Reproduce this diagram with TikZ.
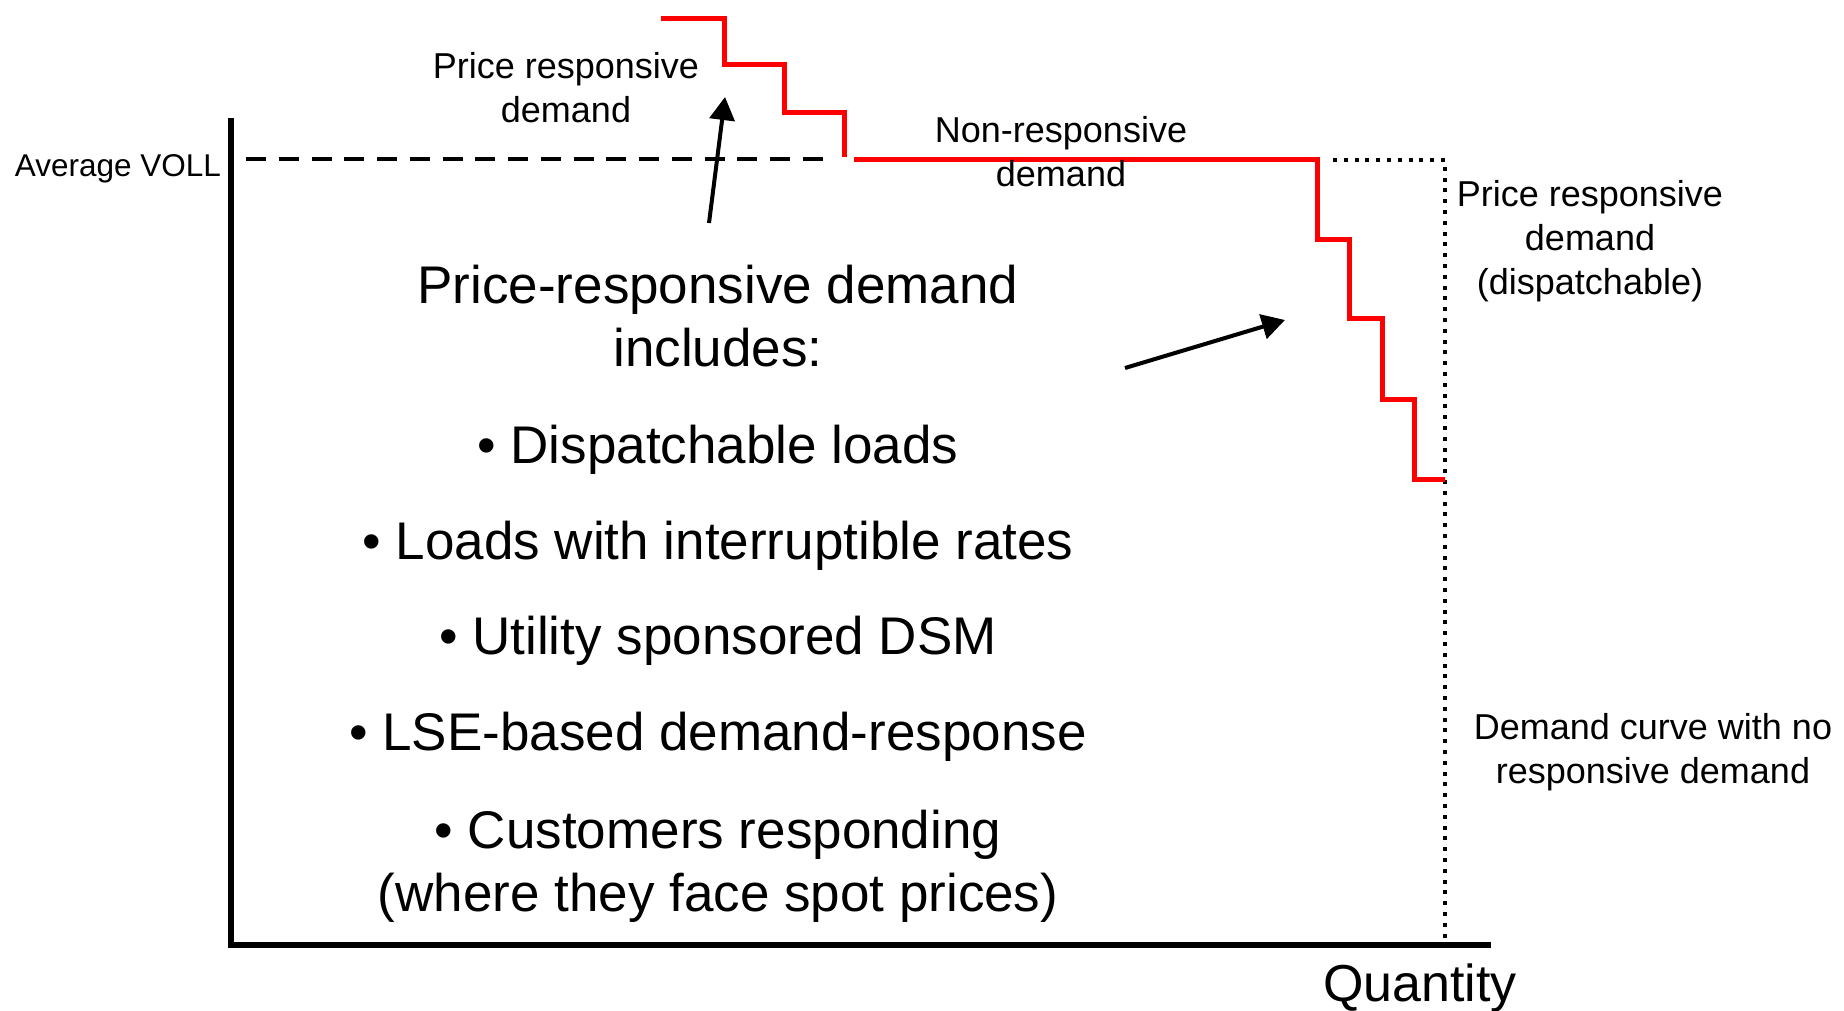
\documentclass[tikz,border=0pt]{standalone}
\usepackage{fontspec}
\setmainfont{Liberation Sans}
\usetikzlibrary{arrows.meta}

\tikzset{
  axisline/.style={line width=6pt, black},
  curve/.style={line width=5pt, red, line join=miter},
  vollline/.style={line width=3.5pt, dash pattern=on 20pt off 12.76pt},
  refline/.style={line width=4pt, dash pattern=on 4pt off 6.8pt},
  pointer/.style={line width=4pt, -{Triangle[length=23pt,width=25pt]}},
  lbl/.style={align=center, inner sep=0pt, font=\fontsize{36}{44}\selectfont},
  big/.style={align=center, inner sep=0pt, font=\fontsize{53}{63}\selectfont},
}

\begin{document}
\begin{tikzpicture}[x=1pt, y=-1pt]
  \useasboundingbox (0,0) rectangle (1844,1010);

  % axes
  \coordinate (ytop) at (230.5,118);
  \coordinate (origin) at (230.5,944.5);
  \coordinate (xend) at (1491,944.5);
  \draw[axisline] (ytop) -- (origin) -- (xend);

  % average VOLL level
  \coordinate (vollL) at (246,159);
  \coordinate (vollR) at (823,159);
  \draw[vollline] (vollL) -- (vollR);
  \node[lbl, font=\fontsize{31.5}{38}\selectfont] (voll) at (118,169) {Average VOLL};

  % demand curve with no responsive demand
  \coordinate (d1) at (1333,160);
  \coordinate (d2) at (1445,160);
  \coordinate (d3) at (1445,942);
  \draw[refline] (d1) -- (d2) -- (d3);

  % price responsive demand above VOLL
  \draw[curve] (661,18) -- (724,18) -- (724,64) -- (784,64) -- (784,112)
               -- (844,112) -- (844,157);
  % non-responsive demand and dispatchable steps
  \draw[curve] (854,159) -- (1317,159) -- (1317,239) -- (1349,239)
               -- (1349,318) -- (1382,318) -- (1382,399) -- (1414,399)
               -- (1414,479) -- (1445,479);

  % labels
  \node[lbl] (prdtop) at (566,88) {Price responsive\\demand};
  \node[lbl] (nonresp) at (1061,152) {Non-responsive\\demand};
  \node[lbl] (prdright) at (1590,241) {Price responsive\\demand\\(dispatchable)};
  \node[lbl] (nocurve) at (1653,752) {Demand curve with no\\responsive demand};
  \node[inner sep=0pt, font=\fontsize{52}{60}\selectfont] (qty) at (1420,988) {Quantity};

  % main text block
  \node[big] (title) at (718,316) {Price-responsive demand\\includes:};
  \node[big] (b1) at (718,450) {\textbullet\ Dispatchable loads};
  \node[big] (b2) at (718,546) {\textbullet\ Loads with interruptible rates};
  \node[big] (b3) at (718,641) {\textbullet\ Utility sponsored DSM};
  \node[big] (b4) at (718,737) {\textbullet\ LSE-based demand-response};
  \node[big] (b5) at (718,866) {\textbullet\ Customers responding\\(where they face spot prices)};

  % pointers
  \coordinate (p1s) at (709,223);
  \coordinate (p1e) at (725,97);
  \draw[pointer] (p1s) -- (p1e);
  \coordinate (p2s) at (1125,368);
  \coordinate (p2e) at (1285,320);
  \draw[pointer] (p2s) -- (p2e);
\end{tikzpicture}
\end{document}
